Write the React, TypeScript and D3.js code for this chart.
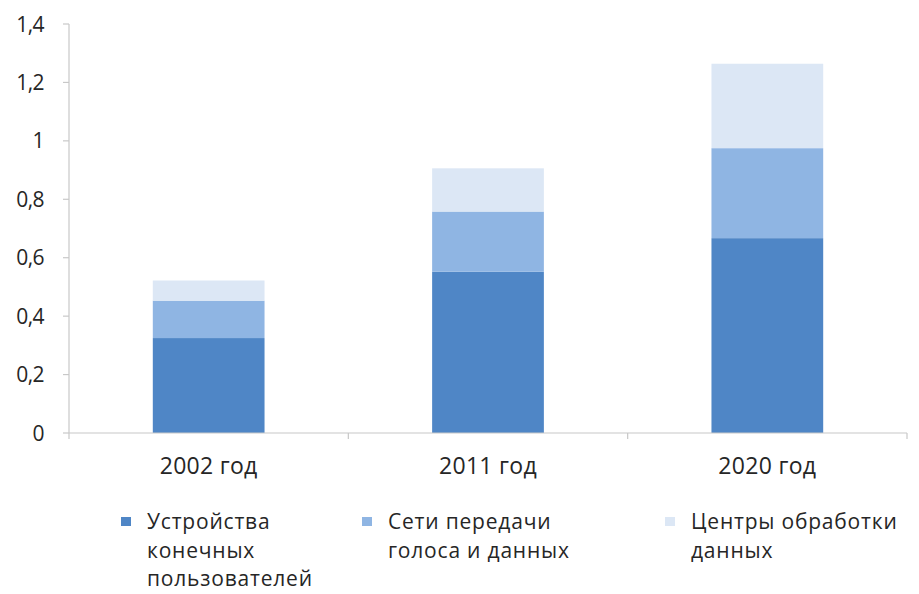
import React from "react";
import * as d3 from "d3";

const categories = ["2002 год", "2011 год", "2020 год"];
const seriesNames = ["Устройства конечных пользователей", "Сети передачи голоса и данных", "Центры обработки данных"];
const endUser = [0.325, 0.552, 0.667];
const networks = [0.128, 0.206, 0.308];
const dataCenters = [0.069, 0.148, 0.289];
const yTicks = [0, 0.2, 0.4, 0.6, 0.8, 1, 1.2, 1.4];
const legendLines = [["Устройства", "конечных", "пользователей"], ["Сети передачи", "голоса и данных"], ["Центры обработки", "данных"]];

const colors = ["#4f86c6", "#8fb5e3", "#dce7f5"];
const FONT = "'Open Sans', 'DejaVu Sans Condensed', Arial, sans-serif";

export default function App() {
  const W = 919, H = 594;
  const x0 = 69, x1 = 907, yTop = 24, yBot = 433;
  const x = d3.scaleBand<string>().domain(categories).range([x0, x1]).paddingInner(0.6).paddingOuter(0.3);
  const band = d3.scaleBand<string>().domain(categories).range([x0, x1]);
  const y = d3.scaleLinear().domain([0, 1.4]).range([yBot, yTop]);

  const rows = categories.map((c, i) => ({ cat: c, endUser: endUser[i], networks: networks[i], dataCenters: dataCenters[i] }));
  const stack = d3.stack<any>().keys(["endUser", "networks", "dataCenters"])(rows);

  const boundaries = [x0, ...categories.map((c) => (band(c) as number) + band.bandwidth())];
  const legendX = [121, 362, 665];

  return (
    <svg width={W} height={H} style={{ position: "absolute", left: 0, top: 0, background: "#fff" }} fontFamily={FONT}>
      {stack.map((layer, li) => (
        <g key={li} fill={colors[li]}>
          {layer.map((d, i) => (
            <rect key={i} x={x(categories[i])} width={x.bandwidth()} y={y(d[1])} height={y(d[0]) - y(d[1])} />
          ))}
        </g>
      ))}
      <line x1={x0} x2={x0} y1={yTop} y2={yBot} stroke="#c8c8c8" strokeWidth={1.2} />
      <line x1={x0} x2={x1} y1={yBot} y2={yBot} stroke="#c8c8c8" strokeWidth={1.2} />
      {yTicks.map((t) => (
        <g key={t}>
          <line x1={x0 - 6} x2={x0} y1={y(t)} y2={y(t)} stroke="#c8c8c8" strokeWidth={1.2} />
          <text x={44} y={y(t)} dy="0.36em" textAnchor="end" fontSize={21} fill="#262626" letterSpacing={-0.6}>
            {String(t).replace(".", ",")}
          </text>
        </g>
      ))}
      {boundaries.map((b, i) => (
        <line key={i} x1={b} x2={b} y1={yBot} y2={yBot + 6} stroke="#c8c8c8" strokeWidth={1.2} />
      ))}
      {categories.map((c) => (
        <text key={c} x={(x(c) as number) + x.bandwidth() / 2} y={474} textAnchor="middle" fontSize={23} fill="#262626" letterSpacing={0.3}>
          {c}
        </text>
      ))}
      {seriesNames.map((s, i) => (
        <g key={s}>
          <rect x={legendX[i]} y={517} width={10} height={9} fill={colors[i]} />
          <text fontSize={21} fill="#262626" letterSpacing={0.8}>
            {legendLines[i].map((l, j) => (
              <tspan key={j} x={legendX[i] + 26} y={529 + j * 28.7}>{l}</tspan>
            ))}
          </text>
        </g>
      ))}
    </svg>
  );
}
